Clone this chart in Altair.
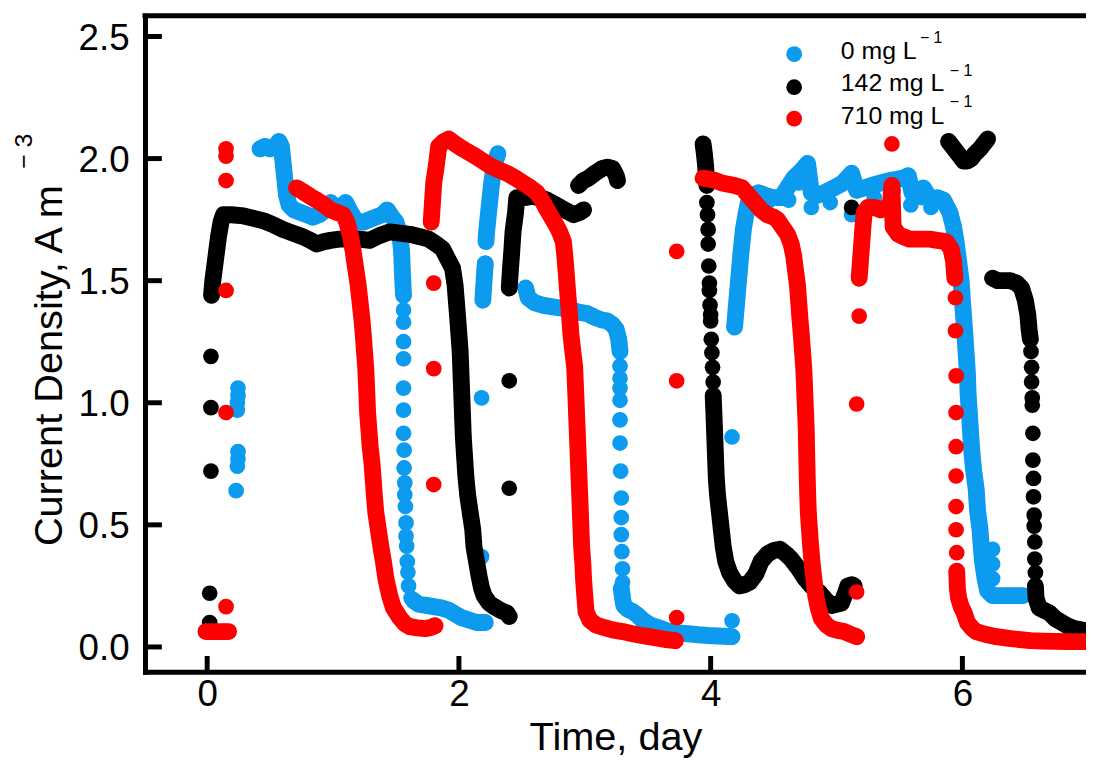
import altair as alt
import pandas as pd

SERIES = ["0 mg L", "142 mg L", "710 mg L"]
COLORS = ["#0C9BEE", "#000000", "#FF0000"]
X_TICKS = [0, 2, 4, 6]
Y_TICKS = [0.0, 0.5, 1.0, 1.5, 2.0, 2.5]

# ---------------- 0 mg/L (blue) ----------------
BLUE_SEGMENTS = [
    [(0.42, 2.04), (0.46, 2.05), (0.50, 2.04), (0.54, 2.05), (0.57, 2.07), (0.59, 2.05), (0.60, 2.00),
     (0.61, 1.95), (0.62, 1.90), (0.63, 1.85), (0.65, 1.81), (0.69, 1.79), (0.74, 1.78), (0.79, 1.77),
     (0.84, 1.76), (0.89, 1.77), (0.94, 1.79), (0.98, 1.82), (1.02, 1.80), (1.06, 1.80), (1.10, 1.82),
     (1.14, 1.78), (1.19, 1.74), (1.24, 1.74), (1.29, 1.75), (1.34, 1.76), (1.39, 1.77), (1.43, 1.79),
     (1.47, 1.76), (1.50, 1.74), (1.53, 1.69), (1.545, 1.62), (1.55, 1.55), (1.555, 1.49), (1.56, 1.44)],
    [(1.64, 0.19), (1.68, 0.175), (1.74, 0.17), (1.80, 0.165), (1.86, 0.16), (1.92, 0.15), (1.97, 0.135),
     (2.02, 0.12), (2.08, 0.11), (2.14, 0.10), (2.21, 0.10)],
    [(2.19, 1.42), (2.195, 1.46), (2.20, 1.50), (2.205, 1.54), (2.21, 1.57)],
    [(2.215, 1.66), (2.22, 1.70), (2.23, 1.75), (2.24, 1.80), (2.25, 1.85), (2.26, 1.90), (2.275, 1.95),
     (2.29, 1.99), (2.31, 2.02)],
    [(2.53, 1.47), (2.55, 1.43), (2.60, 1.41), (2.66, 1.40), (2.72, 1.395), (2.78, 1.39), (2.84, 1.385),
     (2.90, 1.38), (2.96, 1.37), (3.02, 1.365), (3.08, 1.35), (3.13, 1.34), (3.18, 1.335), (3.22, 1.32),
     (3.25, 1.30), (3.27, 1.26), (3.28, 1.21)],
    [(3.29, 0.24), (3.30, 0.20), (3.31, 0.17), (3.34, 0.155), (3.38, 0.145), (3.42, 0.13), (3.46, 0.11),
     (3.52, 0.09), (3.58, 0.08), (3.66, 0.065), (3.74, 0.058), (3.82, 0.054), (3.90, 0.05), (3.98, 0.047),
     (4.06, 0.045), (4.14, 0.043), (4.17, 0.042)],
    [(4.19, 1.31), (4.20, 1.37), (4.21, 1.43), (4.22, 1.49), (4.23, 1.55), (4.24, 1.61), (4.25, 1.66),
     (4.26, 1.71), (4.28, 1.77), (4.30, 1.82), (4.33, 1.85), (4.38, 1.86), (4.43, 1.85), (4.49, 1.84),
     (4.56, 1.84), (4.61, 1.88), (4.66, 1.92), (4.72, 1.95), (4.77, 1.98), (4.80, 1.86), (4.85, 1.85),
     (4.90, 1.86), (4.98, 1.88), (5.05, 1.90), (5.12, 1.94), (5.16, 1.87), (5.22, 1.88), (5.28, 1.89),
     (5.35, 1.90), (5.42, 1.91), (5.48, 1.915), (5.53, 1.92), (5.57, 1.93), (5.60, 1.86), (5.64, 1.87),
     (5.69, 1.88), (5.75, 1.83), (5.80, 1.84), (5.85, 1.83), (5.90, 1.78), (5.93, 1.72), (5.95, 1.66),
     (5.97, 1.58), (5.99, 1.50), (6.00, 1.42), (6.01, 1.35), (6.02, 1.28), (6.03, 1.20), (6.04, 1.12),
     (6.045, 1.04), (6.055, 0.96), (6.065, 0.88), (6.075, 0.80), (6.09, 0.72), (6.11, 0.645), (6.12, 0.56),
     (6.14, 0.48), (6.15, 0.41), (6.16, 0.35), (6.18, 0.28), (6.20, 0.23), (6.24, 0.21), (6.30, 0.21),
     (6.38, 0.21), (6.44, 0.21), (6.48, 0.21)],
]
BLUE_DOTS = [
    (0.23, 0.64), (0.24, 0.74), (0.245, 0.77), (0.245, 0.80), (0.24, 0.97), (0.24, 1.00), (0.245, 1.03),
    (0.245, 1.06),
    (1.56, 1.38), (1.56, 1.33), (1.56, 1.25), (1.56, 1.18), (1.56, 1.06), (1.56, 0.97), (1.56, 0.875),
    (1.565, 0.806), (1.565, 0.733), (1.57, 0.672), (1.57, 0.623), (1.575, 0.575), (1.58, 0.508),
    (1.58, 0.454), (1.585, 0.413), (1.59, 0.35), (1.595, 0.306), (1.60, 0.25), (1.62, 0.20),
    (2.18, 0.37), (2.18, 1.02),
    (3.28, 1.15), (3.28, 1.10), (3.28, 1.06), (3.28, 1.01), (3.28, 0.93), (3.28, 0.835), (3.285, 0.72),
    (3.29, 0.61), (3.29, 0.53), (3.29, 0.46), (3.295, 0.39), (3.30, 0.32), (3.30, 0.265),
    (4.17, 0.107), (4.17, 0.86),
    (4.45, 1.82), (4.62, 1.83), (4.80, 1.80), (4.95, 1.82), (5.12, 1.77), (5.30, 1.84), (5.59, 1.81),
    (5.75, 1.80), (5.91, 1.77), (4.70, 1.90), (5.45, 1.87), (5.68, 1.84),
    (6.24, 0.28), (6.24, 0.34), (6.24, 0.40),
]

# ---------------- 142 mg/L (black) ----------------
BLACK_SEGMENTS = [
    [(0.035, 1.44), (0.045, 1.50), (0.06, 1.56), (0.075, 1.62), (0.09, 1.68), (0.11, 1.74), (0.13, 1.77),
     (0.19, 1.77), (0.29, 1.765), (0.37, 1.755), (0.45, 1.745), (0.52, 1.73), (0.60, 1.71), (0.68, 1.695),
     (0.76, 1.68), (0.82, 1.665), (0.87, 1.65), (0.93, 1.66), (0.98, 1.665), (1.05, 1.67), (1.13, 1.67),
     (1.21, 1.67), (1.29, 1.665), (1.37, 1.685), (1.45, 1.70), (1.53, 1.695), (1.61, 1.69), (1.69, 1.68),
     (1.76, 1.67), (1.82, 1.65), (1.87, 1.63), (1.91, 1.59), (1.95, 1.55), (1.97, 1.48), (1.98, 1.415),
     (1.99, 1.35), (2.00, 1.28), (2.01, 1.21), (2.015, 1.14), (2.02, 1.07), (2.025, 1.00), (2.03, 0.93),
     (2.035, 0.86), (2.045, 0.78), (2.055, 0.70), (2.07, 0.62), (2.09, 0.55), (2.11, 0.48), (2.12, 0.41),
     (2.14, 0.35), (2.16, 0.29), (2.18, 0.24), (2.20, 0.21), (2.24, 0.18), (2.28, 0.165), (2.33, 0.15),
     (2.38, 0.14), (2.40, 0.125)],
    [(2.40, 1.47), (2.41, 1.55), (2.42, 1.62), (2.43, 1.70), (2.45, 1.78), (2.46, 1.84), (2.52, 1.84),
     (2.58, 1.845), (2.64, 1.84), (2.70, 1.83), (2.77, 1.81), (2.84, 1.79), (2.91, 1.77), (2.96, 1.78),
     (2.99, 1.79)],
    [(2.95, 1.89), (2.99, 1.91), (3.03, 1.92), (3.08, 1.94), (3.14, 1.96), (3.18, 1.965), (3.22, 1.96),
     (3.25, 1.93), (3.26, 1.91)],
    [(3.94, 2.06), (3.95, 2.02), (3.96, 1.97), (3.965, 1.93), (3.97, 1.89)],
    [(4.02, 1.03), (4.025, 0.97), (4.03, 0.90), (4.035, 0.83), (4.04, 0.76), (4.045, 0.69), (4.055, 0.62),
     (4.07, 0.55), (4.085, 0.48), (4.10, 0.41), (4.12, 0.35), (4.15, 0.305), (4.19, 0.27), (4.23, 0.25),
     (4.27, 0.255), (4.31, 0.265), (4.36, 0.30), (4.40, 0.35), (4.45, 0.38), (4.50, 0.395), (4.55, 0.40),
     (4.60, 0.38), (4.64, 0.36), (4.70, 0.32), (4.75, 0.28), (4.80, 0.25), (4.86, 0.225), (4.91, 0.195),
     (4.96, 0.17), (5.00, 0.175), (5.04, 0.18), (5.07, 0.22), (5.09, 0.25), (5.12, 0.255), (5.14, 0.25)],
    [(5.89, 2.07), (5.92, 2.05), (5.95, 2.03), (5.98, 2.01), (6.01, 1.99), (6.04, 1.99), (6.07, 2.00),
     (6.10, 2.02), (6.14, 2.04), (6.17, 2.06), (6.20, 2.08)],
    [(6.24, 1.51), (6.28, 1.50), (6.33, 1.50), (6.38, 1.50), (6.43, 1.49), (6.47, 1.47), (6.50, 1.42),
     (6.52, 1.36), (6.53, 1.30), (6.54, 1.26)],
    [(6.58, 0.25), (6.585, 0.20), (6.61, 0.16), (6.65, 0.15), (6.69, 0.14), (6.74, 0.115), (6.79, 0.10),
     (6.84, 0.085), (6.89, 0.075), (6.94, 0.07), (6.99, 0.065)],
]
BLACK_DOTS = [
    (0.02, 0.10), (0.02, 0.22), (0.03, 0.72), (0.03, 0.98), (0.03, 1.19),
    (2.40, 0.65), (2.40, 1.09),
    (3.97, 1.82), (3.975, 1.77), (3.98, 1.71), (3.98, 1.65), (3.985, 1.56), (3.99, 1.49), (3.99, 1.46),
    (3.995, 1.40), (4.00, 1.36), (4.00, 1.335), (4.005, 1.26), (4.01, 1.205), (4.015, 1.145), (4.02, 1.085),
    (5.12, 1.80),
    (6.545, 1.21), (6.55, 1.145), (6.55, 1.085), (6.555, 1.02), (6.555, 0.99), (6.56, 0.875), (6.56, 0.765),
    (6.565, 0.69), (6.565, 0.615), (6.57, 0.54), (6.57, 0.495), (6.575, 0.43), (6.575, 0.36), (6.58, 0.305),
]

# ---------------- 710 mg/L (red) ----------------
RED_SEGMENTS = [
    [(-0.01, 0.063), (0.04, 0.063), (0.09, 0.063), (0.13, 0.063), (0.17, 0.063)],
    [(0.71, 1.88), (0.76, 1.865), (0.82, 1.845), (0.87, 1.83), (0.93, 1.81), (0.98, 1.79), (1.03, 1.78),
     (1.08, 1.77), (1.11, 1.74), (1.14, 1.68), (1.16, 1.62), (1.18, 1.55), (1.20, 1.48), (1.215, 1.41),
     (1.23, 1.34), (1.24, 1.28), (1.25, 1.21), (1.26, 1.14), (1.265, 1.08), (1.27, 1.02), (1.275, 0.955),
     (1.285, 0.89), (1.295, 0.82), (1.31, 0.75), (1.32, 0.68), (1.33, 0.61), (1.34, 0.55), (1.36, 0.48),
     (1.38, 0.41), (1.40, 0.35), (1.42, 0.28), (1.45, 0.21), (1.48, 0.16), (1.53, 0.12), (1.57, 0.095),
     (1.61, 0.083), (1.67, 0.078), (1.73, 0.075), (1.78, 0.08), (1.81, 0.087)],
    [(1.78, 1.74), (1.79, 1.82), (1.80, 1.90), (1.82, 1.97), (1.84, 2.05), (1.88, 2.07), (1.92, 2.08),
     (1.97, 2.06), (2.03, 2.04), (2.08, 2.025), (2.13, 2.01), (2.19, 1.99), (2.25, 1.97), (2.31, 1.955),
     (2.38, 1.94), (2.45, 1.92), (2.51, 1.90), (2.57, 1.88), (2.62, 1.86), (2.66, 1.83), (2.69, 1.80),
     (2.73, 1.765), (2.77, 1.73), (2.80, 1.70), (2.83, 1.66), (2.84, 1.61), (2.85, 1.55), (2.86, 1.48),
     (2.87, 1.415), (2.88, 1.35), (2.89, 1.28), (2.905, 1.21), (2.92, 1.145), (2.925, 1.08), (2.93, 1.02),
     (2.935, 0.95), (2.94, 0.887), (2.945, 0.82), (2.95, 0.75), (2.955, 0.684), (2.96, 0.62), (2.965, 0.55),
     (2.97, 0.48), (2.975, 0.41), (2.985, 0.34), (2.99, 0.28), (3.00, 0.21), (3.01, 0.145), (3.04, 0.11),
     (3.09, 0.09), (3.15, 0.08), (3.22, 0.07), (3.30, 0.063), (3.37, 0.055), (3.44, 0.048), (3.51, 0.042),
     (3.58, 0.036), (3.65, 0.03), (3.72, 0.026)],
    [(3.94, 1.92), (3.99, 1.915), (4.04, 1.91), (4.09, 1.90), (4.14, 1.895), (4.19, 1.89), (4.25, 1.88),
     (4.30, 1.85), (4.35, 1.82), (4.40, 1.79), (4.45, 1.77), (4.50, 1.76), (4.53, 1.75), (4.57, 1.72),
     (4.61, 1.69), (4.64, 1.65), (4.66, 1.60), (4.675, 1.54), (4.69, 1.48), (4.70, 1.41), (4.71, 1.34),
     (4.72, 1.28), (4.73, 1.21), (4.74, 1.14), (4.745, 1.08), (4.75, 1.01), (4.755, 0.95), (4.76, 0.88),
     (4.762, 0.82), (4.765, 0.75), (4.768, 0.68), (4.772, 0.61), (4.776, 0.55), (4.785, 0.48),
     (4.795, 0.41), (4.805, 0.35), (4.82, 0.28), (4.835, 0.21), (4.855, 0.16), (4.88, 0.116), (4.92, 0.09),
     (4.96, 0.075), (5.01, 0.068), (5.06, 0.063), (5.11, 0.052), (5.16, 0.042)],
    [(5.18, 1.51), (5.19, 1.58), (5.20, 1.65), (5.21, 1.72), (5.22, 1.78), (5.25, 1.80), (5.30, 1.80),
     (5.35, 1.79), (5.40, 1.80), (5.43, 1.82), (5.44, 1.89), (5.445, 1.80), (5.45, 1.72), (5.49, 1.69),
     (5.53, 1.68), (5.58, 1.67), (5.63, 1.67), (5.68, 1.67), (5.74, 1.67), (5.80, 1.665), (5.87, 1.66),
     (5.91, 1.63), (5.93, 1.58), (5.94, 1.51)],
    [(5.955, 0.31), (5.96, 0.24), (5.97, 0.20), (5.99, 0.165), (6.01, 0.145), (6.04, 0.10), (6.08, 0.075),
     (6.11, 0.063), (6.18, 0.052), (6.27, 0.042), (6.37, 0.035), (6.46, 0.03), (6.54, 0.026),
     (6.64, 0.024), (6.74, 0.023), (6.84, 0.022), (6.94, 0.022), (6.99, 0.022)],
]
RED_DOTS = [
    (0.15, 0.165), (0.15, 0.96), (0.15, 1.46), (0.15, 1.91), (0.15, 2.01), (0.15, 2.04),
    (1.80, 0.665), (1.80, 1.14), (1.80, 1.49),
    (3.73, 0.12), (3.73, 1.09), (3.73, 1.62),
    (5.16, 0.225), (5.16, 0.995), (5.18, 1.355),
    (5.44, 2.06),
    (5.945, 1.43), (5.945, 1.295), (5.95, 1.11), (5.95, 0.96), (5.95, 0.82), (5.95, 0.70), (5.95, 0.575),
    (5.95, 0.48), (5.955, 0.386),
]

# ---------------- build table ----------------
rows = []
for name, segs, dots in zip(SERIES, [BLUE_SEGMENTS, BLACK_SEGMENTS, RED_SEGMENTS],
                            [BLUE_DOTS, BLACK_DOTS, RED_DOTS]):
    i = 0
    for s, seg in enumerate(segs):
        for x, y in seg:
            rows.append(dict(series=name, seg=s, i=i, x=x, y=y))
            i += 1
    for x, y in dots:
        rows.append(dict(series=name, seg=-1, i=i, x=x, y=y))
        i += 1
df = pd.DataFrame(rows)

W, H = 948, 661
FONT = "Liberation Sans"
DOT = 250      # symbol size (diameter ~16 px)
TRACE = 17     # width of dense point traces

xscale = alt.Scale(domain=[-0.494, 6.982], nice=False, zero=False)
yscale = alt.Scale(domain=[-0.102, 2.585], nice=False, zero=False)
xenc = alt.X("x:Q", scale=xscale, title="Time, day",
             axis=alt.Axis(values=X_TICKS, format="d", labelPadding=5,
                           titleX=W / 2, titleY=78, titleBaseline="alphabetic", titleAlign="center"))
yenc = alt.Y("y:Q", scale=yscale, title="Current Density, A m",
             axis=alt.Axis(values=Y_TICKS, format=".1f", labelPadding=16, labelOffset=2,
                           titleX=-84, titleY=352, titleAngle=270, titleBaseline="alphabetic",
                           titleAlign="center"))

layers = []
for name, color in zip(SERIES, COLORS):
    sub = df[df.series == name]
    layers.append(
        alt.Chart(sub[sub.seg >= 0]).mark_line(color=color, strokeWidth=TRACE, strokeCap="round",
                                               strokeJoin="round")
        .encode(x=xenc, y=yenc, detail="seg:N", order="i:Q")
    )
    layers.append(
        alt.Chart(sub).mark_circle(color=color, size=DOT, opacity=1).encode(x=xenc, y=yenc)
    )

# inward tick marks
layers.append(
    alt.Chart(pd.DataFrame({"y": Y_TICKS})).mark_rule(color="black", strokeWidth=5)
    .encode(y=yenc, x=alt.value(0), x2=alt.value(17))
)
layers.append(
    alt.Chart(pd.DataFrame({"x": X_TICKS})).mark_rule(color="black", strokeWidth=5)
    .encode(x=xenc, y=alt.value(H), y2=alt.value(H - 16))
)
# top frame line
layers.append(
    alt.Chart(pd.DataFrame({"t": [0]})).mark_rule(color="black", strokeWidth=5, strokeCap="square")
    .encode(y=alt.value(0))
)

# superscript of y title
layers.append(
    alt.Chart(pd.DataFrame({"t": ["\u2212 3"]})).mark_text(
        font=FONT, fontSize=25, angle=270, align="center", baseline="alphabetic", color="black")
    .encode(text="t:N", x=alt.value(-114), y=alt.value(136.5))
)

# legend
LEG_MARK_Y = [38.7, 72.0, 103.7]
LEG_TEXT_Y = [43.7, 76.3, 108.7]
LEG_SUP_X = [780.7, 810.7, 810.7]
LEG_SUP_Y = [27.7, 60.3, 92.0]
for k, (name, color) in enumerate(zip(SERIES, COLORS)):
    layers.append(
        alt.Chart(pd.DataFrame({"t": [name]})).mark_circle(color=color, size=DOT, opacity=1)
        .encode(x=alt.value(654), y=alt.value(LEG_MARK_Y[k]))
    )
    layers.append(
        alt.Chart(pd.DataFrame({"t": [name]})).mark_text(
            font=FONT, fontSize=25, align="left", baseline="alphabetic", color="black")
        .encode(text="t:N", x=alt.value(701), y=alt.value(LEG_TEXT_Y[k]))
    )
    layers.append(
        alt.Chart(pd.DataFrame({"t": ["\u2212 1"]})).mark_text(
            font=FONT, fontSize=16, align="left", baseline="alphabetic", color="black")
        .encode(text="t:N", x=alt.value(LEG_SUP_X[k]), y=alt.value(LEG_SUP_Y[k]))
    )

chart = (
    alt.layer(*layers)
    .properties(width=W, height=H,
                padding={"left": 138, "top": 5, "right": 0, "bottom": 85},
                autosize=alt.AutoSizeParams(type="none"))
    .configure_view(strokeWidth=0)
    .configure_axis(
        domainColor="black", domainWidth=5, domainCap="square", ticks=False, grid=False,
        labelFont=FONT, labelFontSize=37, labelColor="black",
        titleFont=FONT, titleFontSize=40, titleColor="black", titleFontWeight="normal",
    )
)

chart.save("out.html", embed_options={"renderer": "svg", "actions": False})
